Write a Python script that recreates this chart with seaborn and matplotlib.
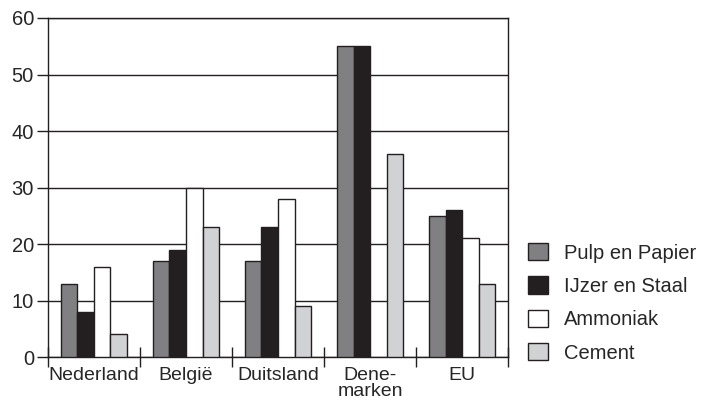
import numpy as np
import pandas as pd
import seaborn as sns
from matplotlib import pyplot as plt

landen = ["Nederland", "België", "Duitsland", "Dene-\nmarken", "EU"]
sectoren = ["Pulp en Papier", "IJzer en Staal", "Ammoniak", "Cement"]
pulp = [13, 17, 17, 55, 25]
ijzer = [8, 19, 23, 55, 26]
ammoniak = [16, 30, 28, np.nan, 21]
cement = [4, 23, 9, 36, 13]
kleuren = ["#808083", "#231f20", "#ffffff", "#d1d2d4"]

rows = []
for sector, waarden in zip(sectoren, [pulp, ijzer, ammoniak, cement]):
    for land, w in zip(landen, waarden):
        rows.append((land, sector, w))
df = pd.DataFrame(rows, columns=["land", "sector", "waarde"])

sns.set_style("white")
plt.rcParams["font.family"] = ["Liberation Sans", "DejaVu Sans"]

fig = plt.figure(figsize=(7.03, 4.09), dpi=100)
ax = fig.add_axes([0.068, 0.127, 0.655, 0.829])

sns.barplot(data=df, x="land", y="waarde", hue="sector", palette=kleuren,
            width=0.72, edgecolor="#231f20", linewidth=1.0, saturation=1,
            ax=ax, zorder=3)

ax.set_ylim(0, 60)
ax.set_xlim(-0.5, 4.5)
ax.set_yticks(range(0, 61, 10))
ax.yaxis.grid(True, color="#231f20", linewidth=1.0, zorder=0)
ax.set_axisbelow(True)
for s in ax.spines.values():
    s.set_visible(True)
    s.set_color("#231f20")
    s.set_linewidth(1.0)

ax.set_xlabel("")
ax.set_ylabel("")
ax.tick_params(axis="y", direction="out", length=8, width=1, color="#231f20",
               labelsize=14.5, left=True, pad=2)
ax.tick_params(axis="x", which="major", length=0, labelsize=14, pad=7)
for lbl in ax.get_xticklabels():
    lbl.set_linespacing(0.95)
ax.set_xticks(np.arange(-0.5, 5, 1), minor=True)
ax.tick_params(axis="x", which="minor", direction="inout", length=14, width=1,
               color="#231f20", bottom=True)

ax.legend(loc="center left", bbox_to_anchor=(1.0, 0.16), frameon=False,
          fontsize=14.5, handlelength=0.95, handleheight=0.95, labelspacing=0.68,
          handletextpad=0.8, borderaxespad=0.6)

plt.savefig("out.png", dpi=100)
